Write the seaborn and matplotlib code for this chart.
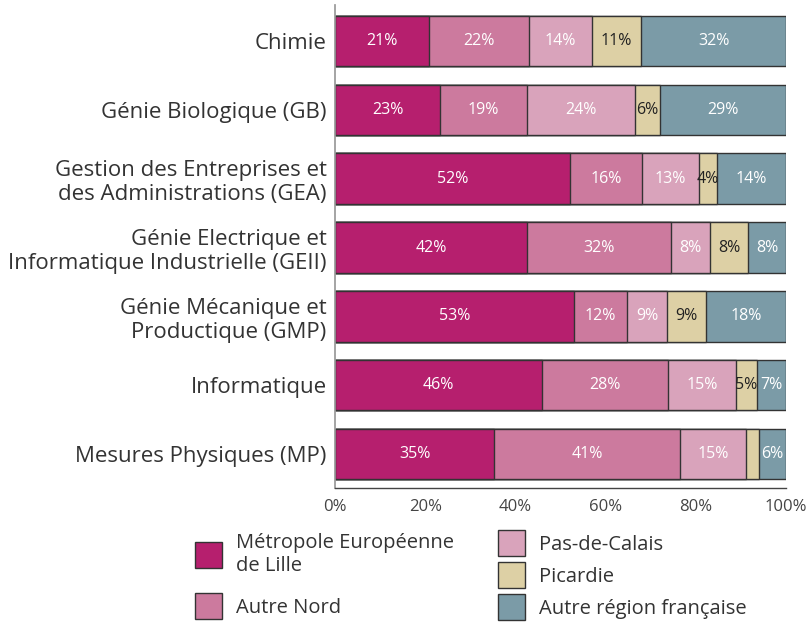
#!/usr/bin/env python3

import pandas as pd
import matplotlib
matplotlib.use("Agg")
import matplotlib.pyplot as plt
import seaborn as sns

# --- STYLE ---
sns.set_theme(style="white")
plt.rcParams["font.family"] = ["Open Sans", "DejaVu Sans"]
plt.rcParams["text.color"] = "#333333"
plt.rcParams["axes.labelcolor"] = "#333333"
plt.rcParams["xtick.color"] = "#333333"
plt.rcParams["ytick.color"] = "#333333"

# --- DONNEES ---
categories = [
    "Chimie",
    "Génie Biologique (GB)",
    "Gestion des Entreprises et\ndes Administrations (GEA)",
    "Génie Electrique et\nInformatique Industrielle (GEII)",
    "Génie Mécanique et\nProductique (GMP)",
    "Informatique",
    "Mesures Physiques (MP)",
]
series = [
    "Métropole Européenne\nde Lille",
    "Autre Nord",
    "Pas-de-Calais",
    "Picardie",
    "Autre région française",
]

# largeurs des segments (%)
mel = [20.8, 23.3, 52.1, 42.5, 53.0, 45.8, 35.3]
autre_nord = [22.2, 19.2, 15.9, 32.1, 11.7, 28.1, 41.2]
pas_de_calais = [13.9, 24.0, 12.7, 8.5, 8.9, 15.0, 14.6]
picardie = [11.0, 5.5, 3.9, 8.5, 8.7, 4.7, 3.0]
autre_region = [32.1, 28.0, 15.4, 8.4, 17.7, 6.4, 5.9]

# étiquettes affichées dans les barres
mel_lbl = [21, 23, 52, 42, 53, 46, 35]
autre_nord_lbl = [22, 19, 16, 32, 12, 28, 41]
pas_de_calais_lbl = [14, 24, 13, 8, 9, 15, 15]
picardie_lbl = [11, 6, 4, 8, 9, 5, None]
autre_region_lbl = [32, 29, 14, 8, 18, 7, 6]

xticks = [0, 20, 40, 60, 80, 100]

colors = ["#b61f6e", "#cc7a9e", "#d9a3bb", "#ddd0a5", "#7b9ba7"]
text_colors = ["white", "white", "white", "#222222", "white"]

values = [mel, autre_nord, pas_de_calais, picardie, autre_region]
labels = [mel_lbl, autre_nord_lbl, pas_de_calais_lbl, picardie_lbl, autre_region_lbl]

df = pd.DataFrame({"Filiere": categories})
cum = [0.0] * len(categories)
for name, vals in zip(series, values):
    df[name + "_left"] = cum
    cum = [c + v for c, v in zip(cum, vals)]
    df[name + "_cum"] = cum

# --- GRAPHIQUE ---
fig = plt.figure(figsize=(8.08, 6.22), dpi=100)
ax = fig.add_axes([0.4146, 0.2154, 0.5582, 0.7766])

# barres empilées : on trace les cumuls du plus long au plus court
handles = {}
for i in reversed(range(len(series))):
    sns.barplot(
        data=df,
        x=series[i] + "_cum",
        y="Filiere",
        orient="h",
        color=colors[i],
        saturation=1,
        edgecolor="#333333",
        linewidth=1.0,
        width=0.73,
        errorbar=None,
        ax=ax,
    )
    handles[i] = ax.containers[-1]

# étiquettes des segments
for i, name in enumerate(series):
    for j in range(len(categories)):
        lbl = labels[i][j]
        if lbl is None:
            continue
        xc = df[name + "_left"][j] + values[i][j] / 2
        ax.text(xc, j, f"{lbl}%", ha="center", va="center",
                fontsize=11.5, color=text_colors[i])

ax.set_xlim(0, 100)
ax.set_ylim(6.49, -0.52)
ax.set_xticks(xticks)
ax.set_xticklabels([f"{t}%" for t in xticks], fontsize=12)
ax.set_xlabel("")
ax.set_ylabel("")
ax.tick_params(axis="x", direction="in", length=6.5, width=1.0, pad=8, colors="#444444")
ax.tick_params(axis="y", length=0, pad=6, labelsize=16)

ax.spines["top"].set_visible(False)
ax.spines["right"].set_visible(False)
ax.spines["left"].set_color("#999999")
ax.spines["bottom"].set_color("#444444")
ax.spines["bottom"].set_linewidth(1.0)

# --- LEGENDE (deux colonnes) ---
leg_kw = dict(
    frameon=False,
    fontsize=14.5,
    handlelength=1.34,
    handleheight=1.61,
    handletextpad=0.72,
    borderpad=0,
    borderaxespad=0,
    loc="upper left",
)
fig.legend(
    [handles[0], handles[1]], [series[0], series[1]],
    bbox_to_anchor=(195 / 808, 1 - 533 / 622), labelspacing=0.85, **leg_kw
)
fig.legend(
    [handles[2], handles[3], handles[4]], [series[2], series[3], series[4]],
    bbox_to_anchor=(498 / 808, 1 - 530 / 622), labelspacing=0.3, **leg_kw
)

plt.savefig("out.png", dpi=100)
